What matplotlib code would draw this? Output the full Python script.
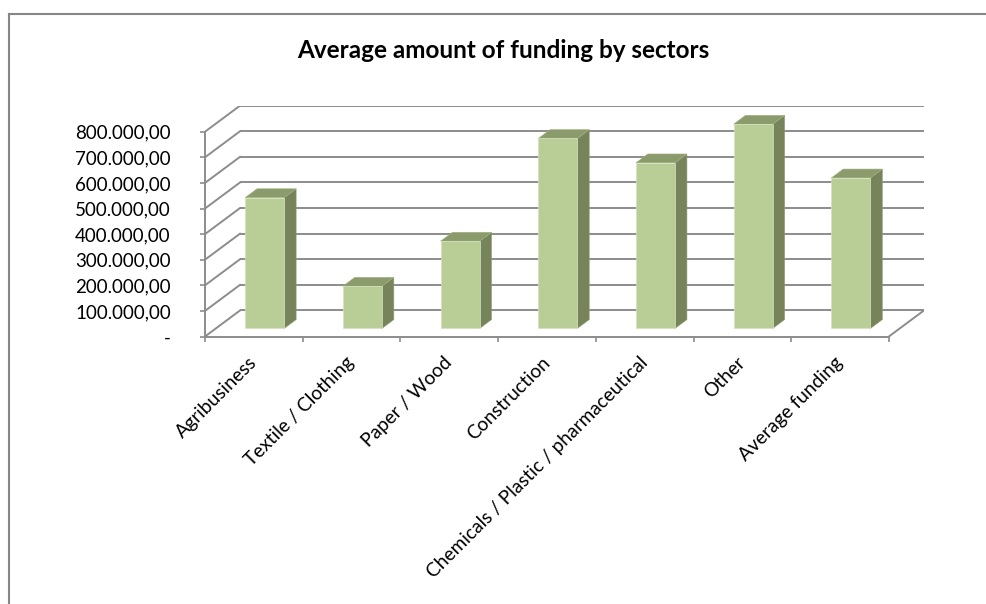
import matplotlib
matplotlib.use("Agg")
import matplotlib.pyplot as plt
from matplotlib.patches import Polygon
from matplotlib.lines import Line2D
from matplotlib.ticker import FixedLocator, NullFormatter

plt.rcParams['font.family'] = ['Lato', 'DejaVu Sans']

# ---- data ----
categories = ["Agribusiness", "Textile / Clothing", "Paper / Wood", "Construction",
              "Chemicals / Plastic / pharmaceutical", "Other", "Average funding"]
funding = [511000, 165000, 341000, 742000, 647000, 798000, 588000]
y_ticks = [0, 100000, 200000, 300000, 400000, 500000, 600000, 700000, 800000]
y_tick_labels = ["-", "100.000,00", "200.000,00", "300.000,00", "400.000,00",
                 "500.000,00", "600.000,00", "700.000,00", "800.000,00"]
title = "Average amount of funding by sectors"

# ---- style / geometry ----
W, H = 986, 604
DX = 0.358        # depth shift (category units)
DY = 101600       # depth shift (value units)
D0, D1 = 0.31, 0.65   # bar depth range (fraction of floor depth)
BL, BR = 0.30, 0.70   # bar left/right within category
PX_CAT = 97.7
PX_VAL = 25.6 / 100000
GRID = "#8c8c8c"
FRONT = "#b9cd96"
TOP = "#8b9b6b"
SIDE = "#77845b"

fig = plt.figure(figsize=(W / 100, H / 100), dpi=100)
ncat = len(categories)
xmax = ncat + DX
ymax = max(y_ticks) + DY
x0_px, y0_px = 205, 336.5
ax = fig.add_axes([x0_px / W, (H - y0_px) / H, xmax * PX_CAT / W, ymax * PX_VAL / H])
ax.set_xlim(0, xmax)
ax.set_ylim(0, ymax)
ax.patch.set_visible(False)

# walls gridlines
for v in y_ticks:
    ax.plot([DX, ncat + DX], [v + DY, v + DY], color=GRID, lw=1.4, zorder=1,
            solid_capstyle='butt')
    ax.plot([0, DX], [v, v + DY], color=GRID, lw=1.4, zorder=1)
# floor right edge
ax.plot([ncat, ncat + DX], [0, DY], color=GRID, lw=1.4, zorder=1)

# bars
for i, v in enumerate(funding):
    xl = i + BL
    xr = i + BR
    f = [(xl + D0 * DX, D0 * DY), (xr + D0 * DX, D0 * DY),
         (xr + D0 * DX, v + D0 * DY), (xl + D0 * DX, v + D0 * DY)]
    t = [(xl + D0 * DX, v + D0 * DY), (xr + D0 * DX, v + D0 * DY),
         (xr + D1 * DX, v + D1 * DY), (xl + D1 * DX, v + D1 * DY)]
    s = [(xr + D0 * DX, D0 * DY), (xr + D1 * DX, D1 * DY),
         (xr + D1 * DX, v + D1 * DY), (xr + D0 * DX, v + D0 * DY)]
    ax.add_patch(Polygon(s, closed=True, facecolor=SIDE, edgecolor="#8f9c72", lw=0.4, zorder=3))
    ax.add_patch(Polygon(t, closed=True, facecolor=TOP, edgecolor="#a3b282", lw=0.4, zorder=3))
    ax.add_patch(Polygon(f, closed=True, facecolor=FRONT, edgecolor="#d4e2bc", lw=0.5, zorder=4))

# spines
for sp in ["top", "right"]:
    ax.spines[sp].set_visible(False)
ax.spines["left"].set_bounds(0, max(y_ticks))
ax.spines["bottom"].set_bounds(0, ncat)
for sp in ["left", "bottom"]:
    ax.spines[sp].set_color(GRID)
    ax.spines[sp].set_linewidth(1.4)
    ax.spines[sp].set_zorder(2)

ax.set_yticks(y_ticks)
ax.set_yticklabels(y_tick_labels)
ax.tick_params(axis="y", direction="out", length=3.6, width=1.2, color=GRID,
               pad=21, labelsize=13.5, labelcolor="black")

ax.xaxis.set_major_locator(FixedLocator(list(range(ncat + 1))))
ax.xaxis.set_major_formatter(NullFormatter())
ax.set_xticks([i + 0.5 for i in range(ncat)], minor=True)
ax.set_xticklabels(categories, minor=True, rotation=45, ha="right", va="center",
                   rotation_mode="anchor")
ax.tick_params(axis="x", which="major", direction="out", length=3.6, width=1.2, color=GRID)
ax.tick_params(axis="x", which="minor", length=0, pad=17, labelsize=13.8, labelcolor="black")

# title
fig.text(503 / W, (H - 58) / H, title, ha="center", va="baseline",
         fontsize=17.5, fontweight="bold", color="black")

# chart-area border (left and top edges; continues beyond the image)
bx, by = 8.5 / W, 1 - 13.5 / H
fig.add_artist(Line2D([bx, 1.05], [by, by], transform=fig.transFigure,
                      color="#868686", lw=1.5))
fig.add_artist(Line2D([bx, bx], [by, -0.05], transform=fig.transFigure,
                      color="#868686", lw=1.5))

fig.savefig("out.png", dpi=100)
